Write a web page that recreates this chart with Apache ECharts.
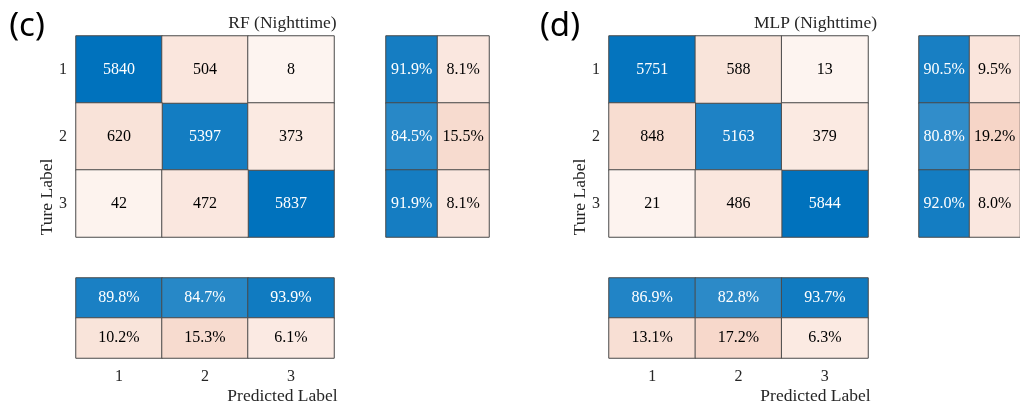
<!DOCTYPE html>
<html><head><meta charset="utf-8">
<script src="https://cdn.jsdelivr.net/npm/echarts@6/dist/echarts.min.js"></script>
<style>html,body{margin:0;padding:0;background:#fff}#c{width:1020px;height:408px}</style>
</head><body><div id="c"></div>
<script>
// ---- data ----
const classLabels = ['1', '2', '3'];
const rfMatrix = [[5840, 504, 8], [620, 5397, 373], [42, 472, 5837]];
const rfRowPct = [[91.9, 8.1], [84.5, 15.5], [91.9, 8.1]];
const rfColPct = [[89.8, 84.7, 93.9], [10.2, 15.3, 6.1]];
const mlpMatrix = [[5751, 588, 13], [848, 5163, 379], [21, 486, 5844]];
const mlpRowPct = [[90.5, 9.5], [80.8, 19.2], [92.0, 8.0]];
const mlpColPct = [[86.9, 82.8, 93.7], [13.1, 17.2, 6.3]];
const panelTitles = ['RF (Nighttime)', 'MLP (Nighttime)'];
const panelTags = ['(c)', '(d)'];
const yName = 'Ture Label';
const xName = 'Predicted Label';

// ---- layout ----
const FONT = '"Liberation Serif", "Times New Roman", serif';
const BLUE = '#0072BD', RED = '#D95319', RED_LOW = '#FDF4F0';
const panels = [
  {m: rfMatrix, r: rfRowPct, c: rfColPct, x0: 76, w: 258, rx: 386},
  {m: mlpMatrix, r: mlpRowPct, c: mlpColPct, x0: 609, w: 259, rx: 919}
];
const TOP = 36, H = 201, BTOP = 278, BH = 80, RW = 103;

const grids = [], xAxes = [], yAxes = [], series = [], visualMaps = [], graphics = [];
const cellLabel = (color, pct) => ({
  show: true, color: color, fontSize: 16, fontFamily: FONT,
  formatter: p => pct ? p.value[2].toFixed(1) + '%' : String(p.value[2])
});
const itemStyle = {borderColor: '#4a4a4a', borderWidth: 1};
function addSeries(gi, data, color, pct) {
  series.push({type: 'heatmap', xAxisIndex: gi, yAxisIndex: gi, data: data,
    label: cellLabel(color, pct), itemStyle: itemStyle, emphasis: {disabled: true}, progressive: 0});
  return series.length - 1;
}
const bluePct = [], redPct = [];
panels.forEach((P, k) => {
  const base = grids.length;
  grids.push({left: P.x0, top: TOP, width: P.w, height: H});
  grids.push({left: P.rx, top: TOP, width: RW, height: H});
  grids.push({left: P.x0, top: BTOP, width: P.w, height: BH});
  const hid = {show: true, axisLine: {show: false}, axisTick: {show: false}, axisLabel: {show: false}, splitLine: {show: false}};
  // main
  xAxes.push(Object.assign({type: 'category', gridIndex: base, data: classLabels}, hid));
  yAxes.push({type: 'category', gridIndex: base, data: classLabels, inverse: true,
    axisLine: {show: false}, axisTick: {show: false}, splitLine: {show: false},
    axisLabel: {margin: 9, fontSize: 16, fontFamily: FONT, color: '#262626'}});
  // right
  xAxes.push(Object.assign({type: 'category', gridIndex: base + 1, data: ['a', 'b']}, hid));
  yAxes.push(Object.assign({type: 'category', gridIndex: base + 1, data: classLabels, inverse: true}, hid));
  // bottom
  xAxes.push({type: 'category', gridIndex: base + 2, data: classLabels,
    axisLine: {show: false}, axisTick: {show: false}, splitLine: {show: false},
    axisLabel: {margin: 11, fontSize: 16, fontFamily: FONT, color: '#262626'}});
  yAxes.push(Object.assign({type: 'category', gridIndex: base + 2, data: ['a', 'b'], inverse: true}, hid));

  const diag = [], off = [];
  P.m.forEach((row, i) => row.forEach((v, j) => (i === j ? diag : off).push([j, i, v])));
  const mx = Math.max(...P.m.flat());
  const sd = addSeries(base, diag, '#ffffff', false);
  const so = addSeries(base, off, '#000000', false);
  visualMaps.push({type: 'continuous', show: false, dimension: 2, min: 0, max: mx, seriesIndex: [sd], inRange: {color: ['#ffffff', BLUE]}});
  visualMaps.push({type: 'continuous', show: false, dimension: 2, min: 0, max: mx, seriesIndex: [so], inRange: {color: [RED_LOW, RED]}});

  const rGood = [], rBad = [];
  P.r.forEach((row, i) => { rGood.push([0, i, row[0]]); rBad.push([1, i, row[1]]); });
  bluePct.push(addSeries(base + 1, rGood, '#ffffff', true));
  redPct.push(addSeries(base + 1, rBad, '#000000', true));
  const cGood = P.c[0].map((v, j) => [j, 0, v]);
  const cBad = P.c[1].map((v, j) => [j, 1, v]);
  bluePct.push(addSeries(base + 2, cGood, '#ffffff', true));
  redPct.push(addSeries(base + 2, cBad, '#000000', true));

  const cx = (P.x0 + P.rx + RW) / 2;
  graphics.push({type: 'text', x: cx, y: 23, style: {text: panelTitles[k], font: '17.5px ' + FONT, fill: '#262626', textAlign: 'center', textVerticalAlign: 'middle'}});
  graphics.push({type: 'text', x: cx, y: 396, style: {text: xName, font: '17.5px ' + FONT, fill: '#262626', textAlign: 'center', textVerticalAlign: 'middle'}});
  graphics.push({type: 'text', x: P.x0 - 28.5, y: 197, rotation: Math.PI / 2, style: {text: yName, font: '17.5px ' + FONT, fill: '#262626', textAlign: 'center', textVerticalAlign: 'middle'}});
  graphics.push({type: 'text', x: P.x0 - 49, y: 27, style: {text: panelTags[k], font: '33px "Noto Sans", sans-serif', fill: '#000', textAlign: 'center', textVerticalAlign: 'middle'}});
});
visualMaps.push({type: 'continuous', show: false, dimension: 2, min: 0, max: 100, seriesIndex: bluePct, inRange: {color: ['#ffffff', BLUE]}});
visualMaps.push({type: 'continuous', show: false, dimension: 2, min: 0, max: 100, seriesIndex: redPct, inRange: {color: [RED_LOW, RED]}});

const chart = echarts.init(document.getElementById('c'), null, {renderer: 'canvas'});
chart.setOption({
  animation: false, backgroundColor: '#ffffff',
  grid: grids, xAxis: xAxes, yAxis: yAxes, visualMap: visualMaps, series: series, graphic: graphics
});
</script></body></html>
